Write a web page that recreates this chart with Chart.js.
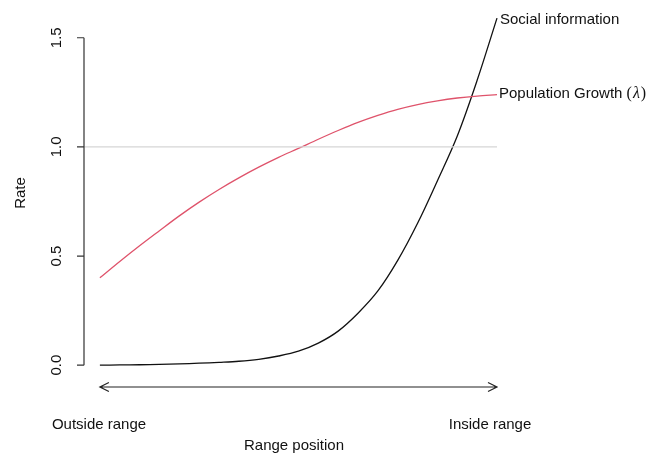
<!DOCTYPE html>
<html>
<head>
<meta charset="utf-8">
<script src="https://cdn.jsdelivr.net/npm/chart.js@4.4.1/dist/chart.umd.min.js"></script>
<style>
  html, body { margin: 0; padding: 0; background: #ffffff; }
  #wrap { width: 663px; height: 453px; }
</style>
</head>
<body>
<div id="wrap"><canvas id="chart" width="663" height="453"></canvas></div>
<script>
// Position along the range gradient: 0 = outside the range, 1 = inside the range
const rangePosition = [0, 0.05, 0.1, 0.15, 0.2, 0.25, 0.3, 0.35, 0.4, 0.45, 0.5,
                       0.55, 0.6, 0.65, 0.7, 0.75, 0.8, 0.85, 0.9, 0.95, 1];

// Population growth rate (lambda) along the gradient
const populationGrowth = [0.40, 0.475, 0.547, 0.616, 0.684, 0.747, 0.805, 0.858, 0.907, 0.952, 0.993,
                          1.035, 1.075, 1.112, 1.144, 1.172, 1.194, 1.211, 1.224, 1.233, 1.239];

// Rate of social information use along the gradient
const socialInformation = [0.000, 0.001, 0.002, 0.004, 0.006, 0.009, 0.013, 0.018, 0.027, 0.042, 0.064,
                           0.101, 0.156, 0.238, 0.340, 0.480, 0.650, 0.845, 1.050, 1.305, 1.59];

// Reference line for replacement-level growth
const referenceLevel = 1.0;

// Y-axis tick values and labels
const yTicks = [0, 0.5, 1.0, 1.5];
const yTickLabels = ['0.0', '0.5', '1.0', '1.5'];

// Text labels
const seriesLabels = { social: 'Social information', growth: 'Population Growth ' };
const axisTitles = { y: 'Rate', x: 'Range position', left: 'Outside range', right: 'Inside range' };

const SANS = '"Liberation Sans", Arial, Helvetica, sans-serif';
const SERIF = '"Liberation Serif", "Times New Roman", serif';
const FONT_SIZE = 15;

const toPoints = (xs, ys) => xs.map((x, i) => ({ x: x, y: ys[i] }));

const annotations = {
  id: 'annotations',
  afterDatasetsDraw(chart) {
    const ctx = chart.ctx;
    const xs = chart.scales.x;
    const ys = chart.scales.y;
    const area = chart.chartArea;
    const axisX = area.left;
    ctx.save();

    // Y axis line spanning the tick range
    ctx.strokeStyle = '#333333';
    ctx.lineWidth = 1.2;
    ctx.beginPath();
    ctx.moveTo(axisX, ys.getPixelForValue(yTicks[0]));
    ctx.lineTo(axisX, ys.getPixelForValue(yTicks[yTicks.length - 1]));
    yTicks.forEach(v => {
      const py = ys.getPixelForValue(v);
      ctx.moveTo(axisX, py);
      ctx.lineTo(axisX - 7, py);
    });
    ctx.stroke();

    // Rotated tick labels
    ctx.fillStyle = '#111111';
    ctx.font = FONT_SIZE + 'px ' + SANS;
    ctx.textAlign = 'center';
    ctx.textBaseline = 'middle';
    yTicks.forEach((v, i) => {
      const py = ys.getPixelForValue(v);
      ctx.save();
      ctx.translate(57, py);
      ctx.rotate(-Math.PI / 2);
      ctx.fillText(yTickLabels[i], 0, 0);
      ctx.restore();
    });

    // Y axis title
    ctx.save();
    ctx.translate(21, 193);
    ctx.rotate(-Math.PI / 2);
    ctx.fillText(axisTitles.y, 0, 0);
    ctx.restore();

    // Double-headed arrow along the range gradient
    const ay = ys.getPixelForValue(-0.1);
    const ax0 = xs.getPixelForValue(rangePosition[0]);
    const ax1 = xs.getPixelForValue(rangePosition[rangePosition.length - 1]);
    ctx.strokeStyle = '#222222';
    ctx.lineWidth = 1.2;
    ctx.beginPath();
    ctx.moveTo(ax0, ay);
    ctx.lineTo(ax1, ay);
    ctx.moveTo(ax0 + 9, ay - 4.5);
    ctx.lineTo(ax0, ay);
    ctx.lineTo(ax0 + 9, ay + 4.5);
    ctx.moveTo(ax1 - 9, ay - 4.5);
    ctx.lineTo(ax1, ay);
    ctx.lineTo(ax1 - 9, ay + 4.5);
    ctx.stroke();

    // Bottom labels
    ctx.fillStyle = '#111111';
    ctx.textAlign = 'center';
    ctx.fillText(axisTitles.left, 99, 425);
    ctx.fillText(axisTitles.right, 490, 425);
    ctx.fillText(axisTitles.x, 294, 446);

    // Series end labels
    ctx.textAlign = 'left';
    const endX = xs.getPixelForValue(rangePosition[rangePosition.length - 1]) + 2;
    ctx.fillText(seriesLabels.social, endX + 1, 20);
    const gy = ys.getPixelForValue(populationGrowth[populationGrowth.length - 1]) - 1;
    ctx.fillText(seriesLabels.growth, endX, gy);
    let tx = endX + ctx.measureText(seriesLabels.growth).width;
    ctx.font = '16px ' + SERIF;
    ctx.fillText('(', tx, gy);
    tx += ctx.measureText('(').width + 1;
    ctx.font = 'italic 16px ' + SERIF;
    ctx.fillText('\u03BB', tx, gy);
    tx += ctx.measureText('\u03BB').width + 1;
    ctx.font = '16px ' + SERIF;
    ctx.fillText(')', tx, gy);

    ctx.restore();
  }
};

new Chart(document.getElementById('chart'), {
  type: 'line',
  data: {
    datasets: [
      {
        label: 'Reference',
        data: [{ x: -0.04, y: referenceLevel }, { x: 1, y: referenceLevel }],
        borderColor: '#d6d6d6',
        borderWidth: 1.3,
        pointRadius: 0,
        tension: 0
      },
      {
        label: 'Population Growth',
        data: toPoints(rangePosition, populationGrowth),
        borderColor: '#df536b',
        borderWidth: 1.3,
        pointRadius: 0,
        tension: 0.35
      },
      {
        label: 'Social information',
        data: toPoints(rangePosition, socialInformation),
        borderColor: '#111111',
        borderWidth: 1.3,
        pointRadius: 0,
        tension: 0.35
      }
    ]
  },
  options: {
    responsive: false,
    devicePixelRatio: 1,
    animation: false,
    layout: { padding: { left: 84, right: 166, top: 5, bottom: 66 } },
    plugins: { legend: { display: false }, tooltip: { enabled: false } },
    elements: { line: { borderCapStyle: 'butt' } },
    datasets: { line: { clip: false } },
    scales: {
      x: { type: 'linear', min: -0.04, max: 1, display: false },
      y: { type: 'linear', min: -0.1, max: 1.65, display: false }
    }
  },
  plugins: [annotations]
});
</script>
</body>
</html>
